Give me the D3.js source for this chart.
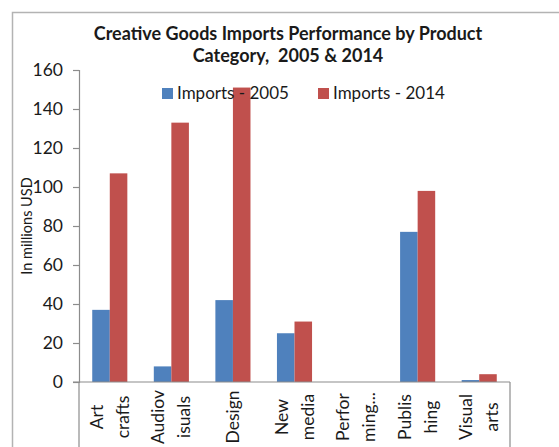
<!DOCTYPE html>
<html>
<head>
<meta charset="utf-8">
<script src="https://cdn.jsdelivr.net/npm/d3@7"></script>
<style>
  body { margin: 0; background: #fff; }
  text { font-family: Lato, "Open Sans", sans-serif; fill: #1a1a1a; }
</style>
</head>
<body>
<div id="chart"></div>
<script>
// dữ liệu
var categories = [["Art", "crafts"], ["Audiov", "isuals"], ["Design"], ["New", "media"], ["Perfor", "ming..."], ["Publis", "hing"], ["Visual", "arts"]];
var imports2005 = [37, 8, 42, 25, 0, 77, 1];
var imports2014 = [107, 133, 151, 31, 0, 98, 4];
var seriesNames = ["Imports - 2005", "Imports - 2014"];
var colors = ["#4F81BD", "#C0504D"];
var yTicks = [0, 20, 40, 60, 80, 100, 120, 140, 160];

var width = 559, height = 447;
var margin = {top: 70, left: 79, right: 49, bottom: 65};
var plotW = width - margin.left - margin.right;
var plotH = height - margin.top - margin.bottom;

var svg = d3.select("#chart").append("svg")
  .attr("width", width)
  .attr("height", height);

// khung ngoài
svg.append("rect")
  .attr("x", 12.5).attr("y", 12.5)
  .attr("width", 600).attr("height", 500)
  .attr("fill", "none")
  .attr("stroke", "#b3b3b3")
  .attr("stroke-width", 1.5);

var g = svg.append("g")
  .attr("transform", "translate(" + margin.left + "," + margin.top + ")");

var keys = categories.map(function(d) { return d.join(" "); });

var x0 = d3.scaleBand().domain(keys).range([0, plotW]).padding(0);
var gap = x0.bandwidth() * 0.215;
var x1 = d3.scaleBand().domain([0, 1]).range([gap, x0.bandwidth() - gap]).padding(0);
var y = d3.scaleLinear().domain([0, 160]).range([plotH, 0]);

// cột
var rows = keys.map(function(k, i) { return {key: k, vals: [imports2005[i], imports2014[i]]}; });
var grp = g.selectAll(".cat").data(rows).enter().append("g")
  .attr("transform", function(d) { return "translate(" + x0(d.key) + ",0)"; });
grp.selectAll("rect").data(function(d) { return d.vals.map(function(v, j) { return {v: v, j: j}; }); })
  .enter().append("rect")
  .attr("x", function(d) { return x1(d.j); })
  .attr("y", function(d) { return y(d.v); })
  .attr("width", x1.bandwidth())
  .attr("height", function(d) { return plotH - y(d.v); })
  .attr("fill", function(d) { return colors[d.j]; });

// trục y
var yAxis = g.append("g")
  .call(d3.axisLeft(y).tickValues(yTicks).tickSize(6).tickPadding(10));
yAxis.select(".domain").attr("stroke", "#8c8c8c").attr("stroke-width", 1.2);
yAxis.selectAll(".tick line").attr("stroke", "#8c8c8c").attr("stroke-width", 1.2);
yAxis.selectAll(".tick text")
  .style("font-size", "17.5px")
  .style("font-family", "Lato, 'Open Sans', sans-serif")
  .attr("fill", "#1a1a1a");

// trục x: đường ngang và hai vạch dọc ở hai đầu
g.append("line")
  .attr("x1", -6).attr("x2", plotW)
  .attr("y1", plotH).attr("y2", plotH)
  .attr("stroke", "#8c8c8c").attr("stroke-width", 1.2);
[0, plotW].forEach(function(px) {
  g.append("line")
    .attr("x1", px).attr("x2", px)
    .attr("y1", plotH).attr("y2", plotH + 80)
    .attr("stroke", "#8c8c8c").attr("stroke-width", 1.2);
});

// nhãn danh mục xoay dọc
var lineGap = 26;
rows.forEach(function(d, i) {
  var lines = categories[i];
  var cx = x0(d.key) + x0.bandwidth() / 2;
  lines.forEach(function(t, k) {
    var off = (k - (lines.length - 1) / 2) * lineGap;
    g.append("text")
      .attr("transform", "translate(" + (cx + off + 6) + "," + (plotH + 35) + ") rotate(-90)")
      .attr("text-anchor", "middle")
      .style("font-size", "17.5px")
      .text(t);
  });
});

// tiêu đề trục y
svg.append("text")
  .attr("transform", "translate(32,226) rotate(-90)")
  .attr("text-anchor", "middle")
  .style("font-size", "14.5px")
  .text("In millions USD");

// tiêu đề
svg.append("text")
  .attr("x", 288).attr("y", 40)
  .attr("text-anchor", "middle")
  .style("font-size", "18px").style("font-weight", "bold")
  .text("Creative Goods Imports Performance by Product");
svg.append("text")
  .attr("x", 288).attr("y", 62)
  .attr("text-anchor", "middle")
  .style("font-size", "18px").style("font-weight", "bold")
  .style("white-space", "pre")
  .text("Category,  2005 & 2014");

// chú thích
var legendX = [162, 318];
seriesNames.forEach(function(name, i) {
  svg.append("rect")
    .attr("x", legendX[i]).attr("y", 88)
    .attr("width", 11).attr("height", 11)
    .attr("fill", colors[i]);
  svg.append("text")
    .attr("x", legendX[i] + 15).attr("y", 99)
    .style("font-size", "17px")
    .text(name);
});
</script>
</body>
</html>
